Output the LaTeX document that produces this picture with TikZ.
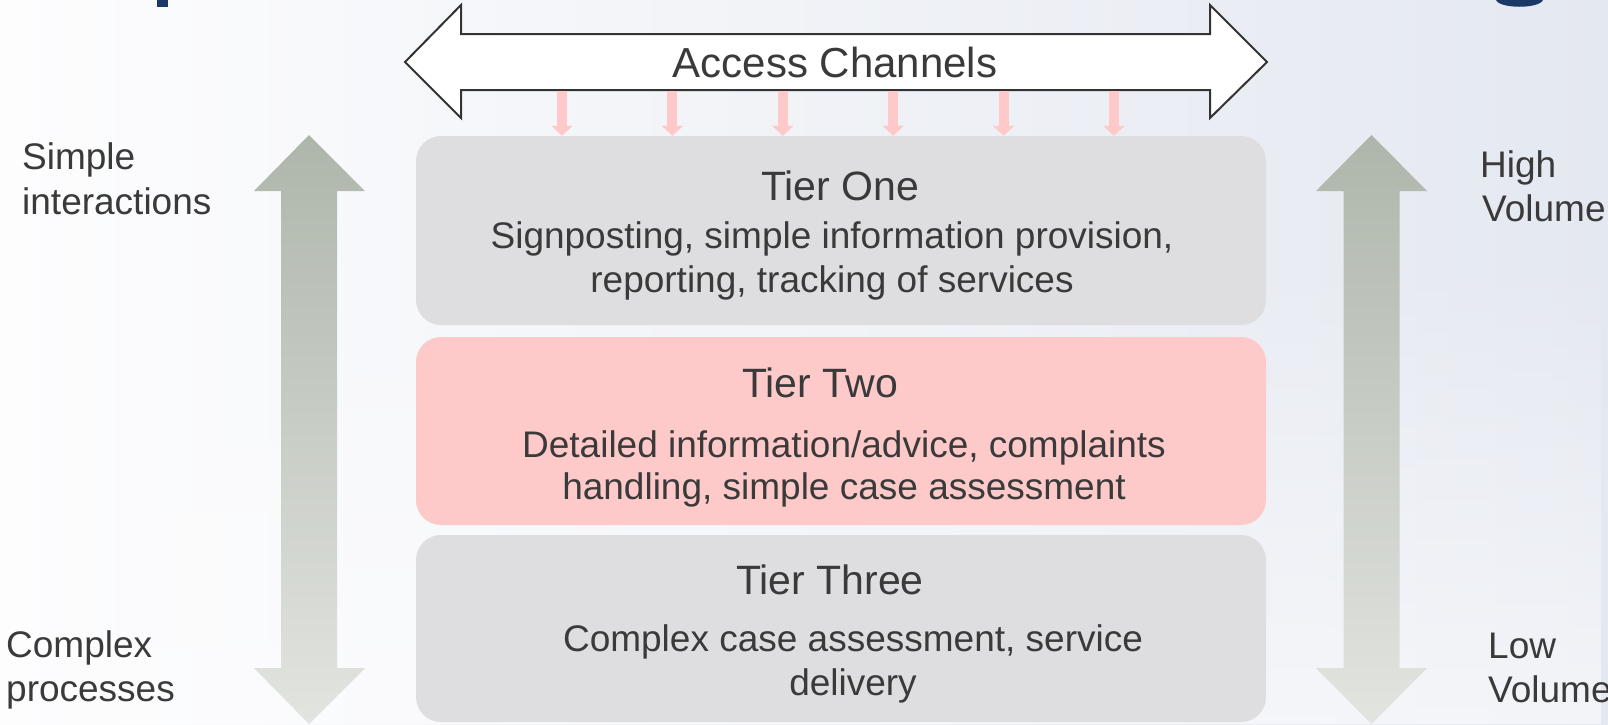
\documentclass[tikz,border=0pt]{standalone}
\usepackage{fontspec}
\setmainfont{Liberation Sans}
\usetikzlibrary{arrows.meta,fadings}
\definecolor{txt}{HTML}{3A3A3A}
\definecolor{tiergray}{HTML}{DEDEE0}
\definecolor{tierpink}{HTML}{FDC9C9}
\definecolor{chpink}{HTML}{FFC9C9}
\definecolor{navy}{HTML}{1B3866}
\definecolor{bgleft}{HTML}{FDFDFE}
\definecolor{bgright}{HTML}{E4E8F0}
\definecolor{arrtop}{HTML}{AEB6AB}
\definecolor{arrbot}{HTML}{E2E4E0}
\begin{document}
\begin{tikzpicture}[x=1pt,y=-1pt,
  tierbox/.style={rounded corners=25pt, minimum width=850pt, inner sep=0pt, draw=none},
  body/.style={text=txt, inner sep=0pt, anchor=base, font=\fontsize{37}{44}\selectfont},
  title/.style={text=txt, inner sep=0pt, anchor=base, font=\fontsize{41}{48}\selectfont},
  side/.style={text=txt, inner sep=0pt, anchor=base west, font=\fontsize{37}{44}\selectfont},
  chan/.style={draw=chpink, line width=10pt, -{Triangle[width=21pt,length=10pt]}},
  bigarrow/.style={top color=arrtop, bottom color=arrbot, draw=none}
]
\useasboundingbox (0,0) rectangle (1608,724);
% background
\shade[left color=bgleft, right color=bgright] (0,0) rectangle (1608,724);
\fill[bgleft, path fading=north, opacity=0.6] (0,250) rectangle (1608,724);
% clipped title fragments
\fill[navy] (157,0) rectangle (168,7);
\fill[navy] (1496,0) .. controls (1500,9) and (1539,9) .. (1543,0) -- cycle;

% big side arrows
\shade[bigarrow] (309,135) -- (365,191) -- (337,191) -- (337,668) -- (365,668) -- (309,724) -- (254,668) -- (281,668) -- (281,191) -- (254,191) -- cycle;
\shade[bigarrow] (1371.5,135) -- (1427,191) -- (1399.5,191) -- (1399.5,668) -- (1427,668) -- (1371.5,724) -- (1316,668) -- (1343.5,668) -- (1343.5,191) -- (1316,191) -- cycle;

% tier boxes
\node[tierbox, fill=tiergray, minimum height=189pt] (t1) at (841,230.5) {};
\node[tierbox, fill=tierpink, minimum height=188pt] (t2) at (841,431) {};
\node[tierbox, fill=tiergray, minimum height=187pt] (t3) at (841,628.5) {};

% access channels double arrow
\draw[draw=black!80, line width=2pt, fill=white, line join=miter]
  (405,62) -- (461,5) -- (461,34) -- (1210,34) -- (1210,5) -- (1267,62)
  -- (1210,118) -- (1210,90) -- (461,90) -- (461,118) -- cycle;
\node[text=txt, inner sep=0pt, anchor=base, font=\fontsize{42}{50}\selectfont] (ch) at (835,77) {Access Channels};

% channel arrows
\foreach \i in {0,...,5} {
  \coordinate (a\i) at ({562+110.4*\i},91);
  \draw[chan] (a\i) -- (a\i |- t1.north);
}

% tier texts
\node[title] (t1h) at (840,200) {Tier One};
\node[body] (t1a) at (832,248) {Signposting, simple information provision,};
\node[body] (t1b) at (832,292) {reporting, tracking of services};

\node[title] (t2h) at (820,397) {Tier Two};
\node[body] (t2a) at (844,457) {Detailed information/advice, complaints};
\node[body] (t2b) at (844,499) {handling, simple case assessment};

\node[title] (t3h) at (830,594) {Tier Three};
\node[body] (t3a) at (853,651) {Complex case assessment, service};
\node[body] (t3b) at (853,695) {delivery};

% side labels
\node[side] (s1) at (22,169) {Simple};
\node[side] (s2) at (22,214) {interactions};
\node[side] (c1) at (6,657) {Complex};
\node[side] (c2) at (6,701) {processes};
\node[side] (h1) at (1480,177) {High};
\node[side] (h2) at (1482,221) {Volume};
\node[side] (l1) at (1488,658) {Low};
\node[side] (l2) at (1488,702) {Volume};
\end{tikzpicture}
\end{document}
